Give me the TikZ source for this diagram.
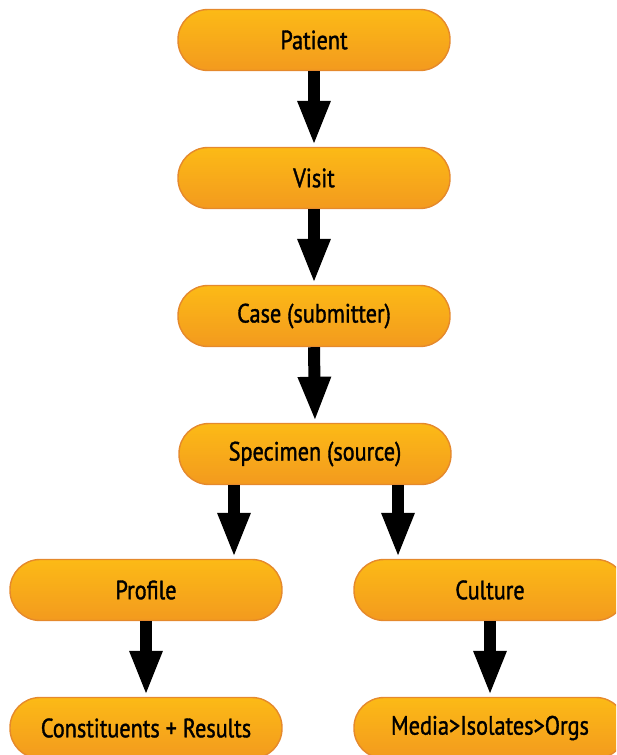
\documentclass[tikz,border=0pt]{standalone}
\usepackage{fontspec}
\setmainfont{PT Sans}
\newfontfamily\boxfont{PT Sans}[FakeStretch=0.84,FakeBold=1.3]
\usetikzlibrary{arrows.meta,calc}
\definecolor{boxtop}{HTML}{FCBA16}
\definecolor{boxbot}{HTML}{F39A1E}
\definecolor{boxline}{HTML}{E5892C}
\tikzset{
  flowbox/.style={draw=boxline, line width=1.4pt, top color=boxtop, bottom color=boxbot,
    rounded corners=30pt, minimum width=272pt, minimum height=61pt, inner sep=0pt,
    font=\boxfont\fontsize{26.5}{30}\selectfont, text=black},
  bigarrow/.style={line width=12pt, -{Triangle[length=45pt,width=30pt]}, black, shorten >=1pt}
}
\begin{document}
\begin{tikzpicture}[x=1pt,y=-1pt]
\useasboundingbox (0,0) rectangle (616,755);
\clip (0,0) rectangle (616,755);
\node[flowbox] (patient) at (314,40) {Patient};
\node[flowbox] (visit) at (314,178) {Visit};
\node[flowbox] (case) at (314,316) {Case (submitter)};
\node[flowbox] (spec) at (315,454) {Specimen (source)};
\node[flowbox] (profile) at (146,590) {Profile};
\node[flowbox] (culture) at (490,590) {Culture};
\node[flowbox] (const) at (146,728) {Constituents + Results};
\node[flowbox] (media) at (490,728) {Media>Isolates>Orgs};
\draw[bigarrow] (patient.south) -- (visit.north);
\draw[bigarrow] (visit.south) -- (case.north);
\draw[bigarrow] (case.south) -- (spec.north);
\draw[bigarrow] ([xshift=-81pt]spec.south) -- ([xshift=-81pt]spec.south |- profile.north);
\draw[bigarrow] ([xshift=83pt]spec.south) -- ([xshift=83pt]spec.south |- culture.north);
\draw[bigarrow] (profile.south) -- (const.north);
\draw[bigarrow] (culture.south) -- (media.north);
\end{tikzpicture}
\end{document}
